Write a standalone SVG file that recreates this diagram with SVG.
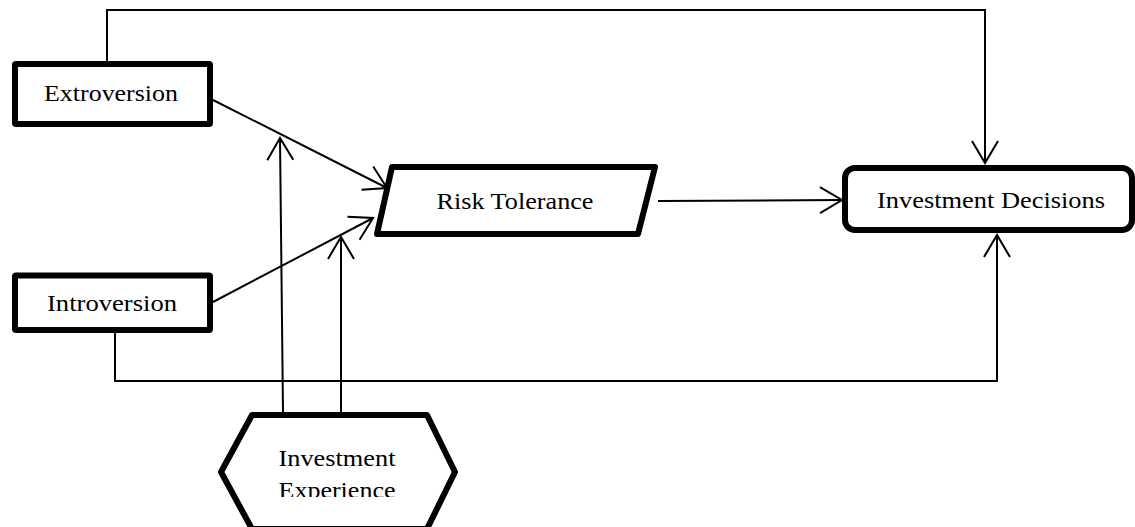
<svg xmlns="http://www.w3.org/2000/svg" width="1135" height="527" viewBox="0 0 1135 527">
<style>
.node{fill:#fff;stroke:#000;stroke-width:6;stroke-linejoin:round}
.lbl{font-family:"Liberation Serif","Times New Roman",serif;font-size:23px;fill:#000;text-anchor:middle}
.conn{fill:none;stroke:#000;stroke-width:2}
</style>
<defs>
<marker id="arr" markerUnits="userSpaceOnUse" markerWidth="30" markerHeight="30" viewBox="-24 -15 26 30" refX="0" refY="0" orient="auto">
<path d="M-22,-13 L0,0 L-22,13" fill="none" stroke="#000" stroke-width="2"/>
</marker>
<clipPath id="hexclip"><rect x="0" y="0" width="1135" height="497"/></clipPath>
</defs>
<rect width="1135" height="527" fill="#fff"/>
<g id="connectors">
<polyline class="conn" points="107,64 107,10 985,10 985,163" marker-end="url(#arr)"/>
<polyline class="conn" points="115,330 115,381 997,381 997,235" marker-end="url(#arr)"/>
<line class="conn" x1="213" y1="100" x2="387" y2="188" marker-end="url(#arr)"/>
<line class="conn" x1="213" y1="302" x2="373" y2="218" marker-end="url(#arr)"/>
<line class="conn" x1="283" y1="413" x2="280" y2="138" marker-end="url(#arr)"/>
<line class="conn" x1="341" y1="413" x2="341" y2="237" marker-end="url(#arr)"/>
<line class="conn" x1="658" y1="201" x2="842" y2="200" marker-end="url(#arr)"/>
</g>
<g id="extroversion">
<rect class="node" x="15" y="64" width="195" height="60" rx="1"/>
<text class="lbl" x="111" y="101" textLength="134" lengthAdjust="spacingAndGlyphs">Extroversion</text>
</g>
<g id="introversion">
<rect class="node" x="15" y="275.5" width="195" height="54.5" rx="1"/>
<text class="lbl" x="112" y="311" textLength="130" lengthAdjust="spacingAndGlyphs">Introversion</text>
</g>
<g id="risk-tolerance">
<polygon class="node" points="392,167 655,167 638,234 377,234"/>
<text class="lbl" x="515" y="209" textLength="157" lengthAdjust="spacingAndGlyphs">Risk Tolerance</text>
</g>
<g id="investment-decisions">
<rect class="node" x="845" y="168" width="287" height="62" rx="10"/>
<text class="lbl" x="991" y="208" textLength="228" lengthAdjust="spacingAndGlyphs">Investment Decisions</text>
</g>
<g id="investment-experience">
<polygon class="node" points="252,415 427,415 455,472 427,529 252,529 221,472"/>
<text class="lbl" x="337" y="466" textLength="117" lengthAdjust="spacingAndGlyphs">Investment</text>
<text class="lbl" x="337" y="498" textLength="117" lengthAdjust="spacingAndGlyphs" clip-path="url(#hexclip)">Experience</text>
</g>
</svg>
